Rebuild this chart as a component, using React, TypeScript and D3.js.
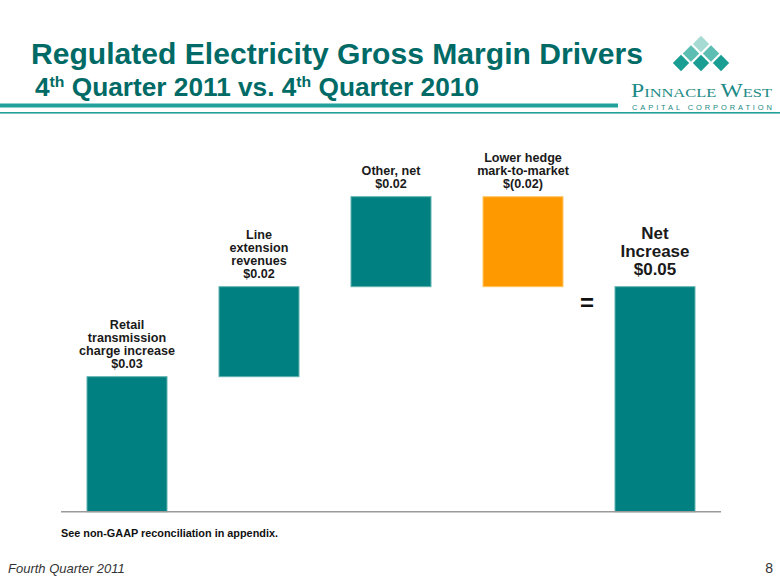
import React from "react";
import * as d3 from "d3";

const categories = ["retail", "line", "other", "hedge", "net"];
const labels: string[][] = [
  ["Retail", "transmission", "charge increase", "$0.03"],
  ["Line", "extension", "revenues", "$0.02"],
  ["Other, net", "$0.02"],
  ["Lower hedge", "mark-to-market", "$(0.02)"],
  ["Net", "Increase", "$0.05"],
];
const deltas = [0.03, 0.02, 0.02, -0.02];
const netValue = 0.05;

const W = 780;
const H = 585;
const TEAL = "#008080";
const ORANGE = "#FF9900";
const TITLE = "#006B66";
const FONT = "Liberation Sans, Arial, sans-serif";

export default function App() {
  const x = d3
    .scaleBand<string>()
    .domain(categories)
    .range([61, 721])
    .paddingInner(0.394)
    .paddingOuter(0.197);
  const y = d3.scaleLinear().domain([0, 0.07]).range([511.7, 196.7]);

  let cum = 0;
  const segs = deltas.map((d, i) => {
    const start = cum;
    cum += d;
    return { key: categories[i], lo: Math.min(start, cum), hi: Math.max(start, cum), neg: d < 0, lab: labels[i] };
  });
  segs.push({ key: "net", lo: 0, hi: netValue, neg: false, lab: labels[4] });

  const diamonds = [
    { cx: 701, cy: 44, c: "#a6dbd4" },
    { cx: 691, cy: 53.5, c: "#5cbdb3" },
    { cx: 711, cy: 53.5, c: "#5cbdb3" },
    { cx: 681, cy: 63, c: "#1a9e94" },
    { cx: 701, cy: 63, c: "#1a9e94" },
    { cx: 721, cy: 63, c: "#1a9e94" },
  ];
  const half = 8.2;

  return (
    <svg
      width={W}
      height={H}
      style={{ position: "absolute", left: 0, top: 0, background: "#fff" }}
      fontFamily={FONT}
    >
      <rect width={W} height={H} fill="#fff" />
      <text x={31} y={64} fontSize={29} fontWeight="bold" fill={TITLE} textLength={612} lengthAdjust="spacingAndGlyphs">
        Regulated Electricity Gross Margin Drivers
      </text>
      <text x={35} y={96} fontSize={25} fontWeight="bold" fill={TITLE} textLength={444} lengthAdjust="spacingAndGlyphs">
        4<tspan fontSize={15} dy={-9}>th</tspan>
        <tspan dy={9}> Quarter 2011 vs. 4</tspan>
        <tspan fontSize={15} dy={-9}>th</tspan>
        <tspan dy={9}> Quarter 2010</tspan>
      </text>
      <rect x={0} y={103.5} width={618} height={4} fill="#22a09c" />
      <rect x={0} y={112} width={780} height={1.6} fill="#22a09c" />

      {diamonds.map((d, i) => (
        <polygon
          key={i}
          points={`${d.cx},${d.cy - half} ${d.cx + half},${d.cy} ${d.cx},${d.cy + half} ${d.cx - half},${d.cy}`}
          fill={d.c}
        />
      ))}
      <text
        x={631}
        y={97}
        fill="#1b8a86"
        fontFamily="Liberation Serif, DejaVu Serif, serif"
        textLength={141}
        lengthAdjust="spacingAndGlyphs"
      >
        <tspan fontSize={18}>P</tspan>
        <tspan fontSize={12.5}>INNACLE </tspan>
        <tspan fontSize={18}>W</tspan>
        <tspan fontSize={12.5}>EST</tspan>
      </text>
      <text
        x={632}
        y={110}
        fill="#1b8a86"
        fontSize={7.5}
        fontFamily={FONT}
        textLength={140}
        lengthAdjust="spacing"
      >
        CAPITAL CORPORATION
      </text>

      {segs.map((s) => {
        const x0 = x(s.key)!;
        const bw = x.bandwidth();
        const top = y(s.hi);
        const isNet = s.key === "net";
        const fs = isNet ? 17 : 12.6;
        const lh = isNet ? 18 : 13;
        const gap = isNet ? 12 : 8.5;
        const n = s.lab.length;
        return (
          <g key={s.key}>
            <rect
              x={x0}
              y={top}
              width={bw}
              height={y(s.lo) - top}
              fill={s.neg ? ORANGE : TEAL}
              stroke={s.neg ? "#ffc766" : "#5fb3b0"}
              strokeWidth={1}
            />
            {s.lab.map((t, j) => (
              <text
                key={j}
                x={x0 + bw / 2}
                y={top - gap - (n - 1 - j) * lh}
                textAnchor="middle"
                fontSize={fs}
                fontWeight="bold"
                fill="#1a1a1a"
              >
                {t}
              </text>
            ))}
          </g>
        );
      })}
      <text x={587} y={311} textAnchor="middle" fontSize={24} fontWeight="bold" fill="#111">
        =
      </text>

      <line x1={61} x2={721} y1={y(0)} y2={y(0)} stroke="#9a9a9a" strokeWidth={1.5} />

      <text x={61} y={537} fontSize={11} fontWeight="bold" fill="#111" textLength={217} lengthAdjust="spacingAndGlyphs">
        See non-GAAP reconciliation in appendix.
      </text>
      <text x={8} y={573} fontSize={13} fontStyle="italic" fill="#333">
        Fourth Quarter 2011
      </text>
      <text x={773} y={573} fontSize={14} fill="#333" textAnchor="end">
        8
      </text>
    </svg>
  );
}
